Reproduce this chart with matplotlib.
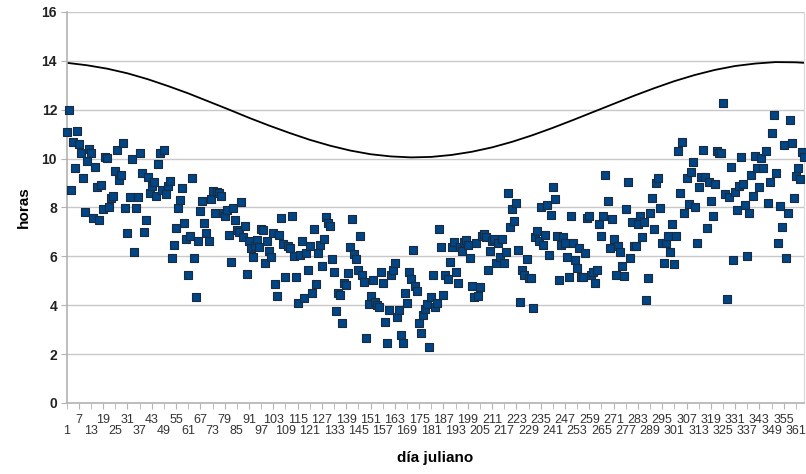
import matplotlib
matplotlib.use("Agg")
import matplotlib.pyplot as plt
import numpy as np

plt.rcParams['font.family'] = ['Liberation Sans', 'DejaVu Sans']

# horas de sol medidas, un valor por dia juliano (1..365)
horas_sol = [
    11.1, 12.0, 8.7, 10.7, 9.6, 11.15, 10.6, 10.25, 9.2, 7.8,
    9.9, 10.4, 10.25, 7.55, 9.65, 8.85, 7.5, 8.9, 7.93, 10.05,
    10.03, 8.0, 8.37, 8.47, 9.5, 10.35, 9.12, 9.35, 10.62, 7.96,
    6.97, 8.41, 9.98, 6.19, 7.96, 8.41, 10.24, 9.42, 7.0, 7.48,
    9.23, 8.58, 8.88, 9.05, 8.47, 9.78, 10.24, 8.71, 10.35, 8.55,
    8.88, 9.09, 5.94, 6.46, 7.17, 7.96, 8.3, 8.8, 7.37, 6.7,
    5.25, 6.83, 9.22, 5.92, 4.35, 6.64, 7.87, 8.28, 7.37, 6.94,
    6.64, 8.33, 8.68, 7.78, 8.64, 8.58, 8.48, 7.78, 7.65, 7.89,
    6.87, 5.78, 7.96, 7.48, 7.08, 7.01, 8.21, 6.78, 7.25, 5.28,
    6.64, 6.33, 5.96, 6.42, 6.67, 6.39, 7.14, 7.08, 5.74, 6.63,
    6.23, 5.98, 6.97, 4.87, 4.38, 6.87, 7.55, 6.5, 5.14, 6.42,
    6.33, 7.65, 6.01, 5.14, 4.1, 6.05, 6.64, 4.28, 6.12, 5.44,
    6.42, 4.51, 7.1, 4.85, 6.12, 6.46, 5.6, 6.73, 7.62, 7.35,
    7.25, 5.88, 5.37, 3.76, 4.49, 4.42, 3.28, 4.92, 4.83, 5.33,
    6.39, 7.51, 6.08, 5.88, 5.44, 6.83, 5.23, 4.96, 2.67, 4.05,
    4.38, 5.03, 4.14, 4.0, 3.94, 5.37, 4.9, 3.3, 2.47, 3.8,
    5.23, 5.44, 5.71, 3.5, 3.8, 2.78, 2.44, 4.51, 4.08, 5.37,
    5.06, 6.26, 4.79, 4.59, 3.26, 2.88, 3.6, 3.83, 4.05, 2.28,
    4.35, 5.23, 3.94, 4.08, 7.14, 6.39, 4.42, 5.23, 5.06, 5.78,
    6.37, 6.6, 5.37, 4.9, 6.37, 6.23, 6.6, 6.67, 6.46, 5.94,
    4.79, 4.32, 6.56, 4.38, 4.73, 6.83, 6.9, 6.8, 5.44, 6.23,
    6.64, 6.7, 5.71, 6.53, 5.96, 6.7, 5.71, 6.19, 8.58, 7.21,
    7.92, 7.46, 8.17, 6.26, 4.14, 5.44, 5.23, 5.88, 5.1, 5.1,
    3.9, 6.78, 7.05, 6.64, 8.03, 6.46, 6.87, 8.1, 6.05, 7.69,
    8.85, 8.33, 6.83, 5.03, 6.46, 6.8, 6.56, 5.98, 5.14, 7.65,
    6.53, 5.85, 5.51, 6.33, 5.17, 5.14, 6.12, 7.55, 7.65, 5.23,
    5.37, 4.92, 5.44, 7.31, 6.83, 7.65, 9.33, 8.28, 6.33, 7.51,
    6.7, 5.23, 6.42, 6.19, 5.6, 5.21, 7.92, 9.03, 5.92, 7.42,
    6.42, 6.42, 7.32, 7.65, 6.8, 7.42, 4.21, 5.1, 7.76, 8.4,
    7.12, 8.99, 9.22, 7.96, 6.53, 5.71, 6.53, 6.83, 6.19, 7.32,
    5.67, 6.83, 10.32, 8.6, 10.69, 7.76, 9.22, 8.14, 9.46, 9.87,
    8.0, 6.56, 8.82, 9.26, 10.37, 9.23, 7.17, 9.05, 8.28, 7.65,
    8.96, 10.31, 10.24, 10.21, 12.26, 8.54, 4.25, 8.41, 9.64, 5.85,
    8.64, 7.89, 8.88, 10.05, 8.96, 8.1, 6.01, 7.78, 9.35, 8.47,
    10.1, 9.6, 8.85, 10.01, 9.6, 10.31, 8.17, 9.05, 11.03, 11.78,
    9.42, 6.53, 8.06, 7.21, 10.55, 5.92, 7.78, 11.57, 10.65, 8.37,
    9.3, 9.6, 9.15, 10.28, 10.05,
]
dias = np.arange(1, len(horas_sol) + 1)

# duracion del dia (linea negra), leida cada 10 dias
dias_curva = [1, 11, 21, 31, 41, 51, 61, 71, 81, 91, 101, 111, 121, 131, 141,
              151, 161, 171, 181, 191, 201, 211, 221, 231, 241, 251, 261, 271,
              281, 291, 301, 311, 321, 331, 341, 351, 361, 365]
horas_curva = [13.92, 13.82, 13.68, 13.49, 13.25, 12.97, 12.67, 12.34, 12.01,
               11.67, 11.35, 11.05, 10.77, 10.53, 10.33, 10.18, 10.09, 10.05,
               10.07, 10.15, 10.28, 10.46, 10.69, 10.96, 11.26, 11.58, 11.91,
               12.24, 12.57, 12.88, 13.17, 13.42, 13.63, 13.79, 13.89, 13.95,
               13.94, 13.92]

fila_arriba = list(range(7, 362, 12))
fila_abajo = list(range(1, 362, 12))

fig = plt.figure(figsize=(8.06, 4.74), dpi=100)
ax = fig.add_axes([0.0828, 0.1498, 0.9147, 0.8249])

ax.plot(dias_curva, horas_curva, color='black', lw=1.3, zorder=2)
ax.scatter(dias, horas_sol, marker='s', s=36, facecolor='#004586',
           edgecolor='#1b2b3c', linewidth=0.8, zorder=3, clip_on=False)

ax.set_xlim(1, 365)
ax.set_ylim(0, 16)
ax.set_yticks(range(0, 17, 2))
ax.yaxis.grid(True, color='#c8c8c8', lw=1)
ax.set_axisbelow(True)

ax.set_xticks(fila_arriba)
ax.set_xticklabels([str(d) for d in fila_arriba])
ax.set_xticks(fila_abajo, minor=True)
ax.set_xticklabels([str(d) for d in fila_abajo], minor=True)
ax.tick_params(axis='x', which='major', length=4, color='#b3b3b3',
               labelsize=9, labelcolor='#333333', pad=4)
ax.tick_params(axis='x', which='minor', length=4, color='#b3b3b3',
               labelsize=9, labelcolor='#333333', pad=12)
ax.tick_params(axis='y', length=4, color='#b3b3b3', labelsize=10,
               labelcolor='#222222', pad=3)
for lab in ax.get_yticklabels():
    lab.set_fontweight('bold')

ax.spines['top'].set_visible(False)
ax.spines['right'].set_color('#d8d8d8')
ax.spines['left'].set_color('#b3b3b3')
ax.spines['bottom'].set_color('#b3b3b3')
ax.spines['left'].set_linewidth(1.2)
ax.spines['bottom'].set_linewidth(1.2)

ax.set_ylabel('horas', fontsize=11, fontweight='bold', labelpad=8)
ax.set_xlabel('día juliano', fontsize=11, fontweight='bold', labelpad=10)

fig.savefig('out.png', dpi=100)
